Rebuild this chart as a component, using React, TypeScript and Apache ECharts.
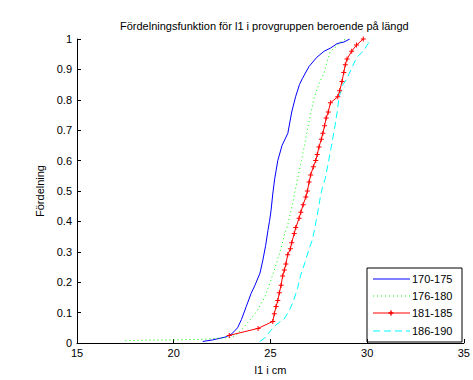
import React, { useEffect, useRef } from "react";
import * as echarts from "echarts";

const titleText = "Fördelningsfunktion för l1 i provgruppen beroende på längd";
const xName = "l1 i cm";
const yName = "Fördelning";
const seriesNames = ["170-175", "176-180", "181-185", "186-190"];
const xTicks = ["15", "20", "25", "30", "35"];
const yTicks = ["0", "0.1", "0.2", "0.3", "0.4", "0.5", "0.6", "0.7", "0.8", "0.9", "1"];

const blue: number[][] = [
  [21.5, 0.005], [22.0, 0.01], [22.7, 0.02], [23.0, 0.03], [23.3, 0.05], [23.5, 0.077],
  [23.75, 0.12], [24.0, 0.163], [24.2, 0.19], [24.46, 0.23], [24.6, 0.27], [24.75, 0.32],
  [24.87, 0.37], [24.95, 0.4], [25.03, 0.435], [25.12, 0.49], [25.22, 0.54], [25.38, 0.6],
  [25.6, 0.65], [25.9, 0.69], [26.1, 0.76], [26.3, 0.81], [26.5, 0.85], [26.65, 0.87],
  [27.0, 0.91], [27.4, 0.94], [27.78, 0.96], [28.1, 0.97], [28.45, 0.985], [28.8, 0.99],
  [29.1, 1.0],
];

const green: number[][] = [
  [17.5, 0.008], [21.5, 0.012], [22.9, 0.018], [23.2, 0.025], [23.6, 0.05], [24.0, 0.08],
  [24.35, 0.11], [24.7, 0.15], [24.96, 0.195], [25.2, 0.24], [25.5, 0.3], [25.7, 0.35],
  [25.9, 0.39], [26.15, 0.46], [26.4, 0.54], [26.6, 0.6], [26.76, 0.65], [27.0, 0.73],
  [27.27, 0.81], [27.5, 0.85], [27.78, 0.89], [27.95, 0.93], [28.1, 0.96], [28.4, 0.975],
  [28.6, 0.99], [28.9, 1.0],
];

const red: number[][] = [
  [22.87, 0.025], [24.36, 0.048], [25.12, 0.071], [25.2, 0.096], [25.29, 0.12],
  [25.38, 0.14], [25.46, 0.165], [25.55, 0.19], [25.63, 0.22], [25.72, 0.24],
  [25.8, 0.26], [25.89, 0.29], [26.03, 0.31], [26.1, 0.33], [26.23, 0.36],
  [26.31, 0.38], [26.48, 0.41], [26.57, 0.43], [26.69, 0.455], [26.83, 0.48],
  [26.91, 0.5], [27.0, 0.53], [27.08, 0.553], [27.22, 0.58], [27.34, 0.6],
  [27.42, 0.62], [27.51, 0.645], [27.63, 0.67], [27.71, 0.69], [27.8, 0.715],
  [27.88, 0.74], [27.99, 0.76], [28.1, 0.79], [28.48, 0.81], [28.58, 0.83],
  [28.7, 0.86], [28.79, 0.89], [28.87, 0.915], [28.96, 0.934], [29.2, 0.96],
  [29.45, 0.98], [29.8, 1.0],
];

const cyan: number[][] = [
  [24.45, 0.005], [24.7, 0.016], [25.0, 0.04], [25.2, 0.055], [25.5, 0.07], [25.7, 0.078],
  [26.0, 0.11], [26.2, 0.14], [26.4, 0.18], [26.55, 0.22], [26.76, 0.26], [27.0, 0.31],
  [27.17, 0.34], [27.3, 0.38], [27.42, 0.42], [27.55, 0.47], [27.68, 0.51], [27.83, 0.54],
  [28.1, 0.63], [28.3, 0.7], [28.45, 0.76], [28.55, 0.81], [28.75, 0.85], [28.96, 0.87],
  [29.2, 0.905], [29.47, 0.94], [29.8, 0.96], [30.1, 0.99], [30.2, 1.0],
];

const FONT = "'Liberation Sans', Arial, sans-serif";
const plusPath = "path://M2,0H3V2H5V3H3V5H2V3H0V2H2Z";

export default function App() {
  const ref = useRef<HTMLDivElement>(null);
  useEffect(() => {
    if (!ref.current) return;
    const chart = echarts.init(ref.current, null, { renderer: "svg" });
    const legendY = [279, 296, 313, 331];
    const legendX0 = 373;
    const legendX1 = 410;
    const legendChildren: any[] = [
      {
        type: "rect",
        shape: { x: 367, y: 268, width: 95, height: 74 },
        style: { fill: "#fff", stroke: "#000", lineWidth: 1 },
      },
      {
        type: "line",
        shape: { x1: legendX0, y1: legendY[0], x2: legendX1, y2: legendY[0] },
        style: { stroke: "#0000ff", lineWidth: 1 },
      },
      {
        type: "line",
        shape: { x1: legendX0, y1: legendY[1], x2: legendX1, y2: legendY[1] },
        style: { stroke: "#00ff00", lineWidth: 1, lineDash: [1, 3] },
      },
      {
        type: "line",
        shape: { x1: legendX0, y1: legendY[2], x2: legendX1, y2: legendY[2] },
        style: { stroke: "#ff0000", lineWidth: 1 },
      },
      {
        type: "rect",
        shape: { x: 388.5, y: legendY[2] - 0.75, width: 5, height: 1.5 },
        style: { fill: "#ff0000" },
      },
      {
        type: "rect",
        shape: { x: 390.25, y: legendY[2] - 2.5, width: 1.5, height: 5 },
        style: { fill: "#ff0000" },
      },
      {
        type: "line",
        shape: { x1: legendX0, y1: legendY[3], x2: legendX1, y2: legendY[3] },
        style: { stroke: "#00ffff", lineWidth: 1, lineDash: [7, 4] },
      },
    ];
    seriesNames.forEach((n, i) => {
      legendChildren.push({
        type: "text",
        x: 412,
        y: legendY[i],
        style: {
          text: n,
          fill: "#000",
          font: `11px ${FONT}`,
          textVerticalAlign: "middle",
          verticalAlign: "middle",
        },
      });
    });

    chart.setOption({
      animation: false,
      backgroundColor: "#fff",
      title: {
        text: titleText,
        left: 120,
        top: 20,
        padding: 0,
        textStyle: { fontFamily: FONT, fontSize: 11, fontWeight: "normal", color: "#000" },
      },
      grid: { left: 77, right: 4, top: 39, bottom: 33, containLabel: false },
      xAxis: {
        type: "value",
        min: 15,
        max: 35,
        interval: 5,
        name: xName,
        nameLocation: "middle",
        nameGap: 21,
        nameTextStyle: { fontFamily: FONT, fontSize: 11, color: "#000" },
        axisLine: { lineStyle: { color: "#000", width: 1 } },
        axisTick: { inside: true, length: 4, lineStyle: { color: "#000" } },
        axisLabel: {
          margin: 4,
          fontFamily: FONT,
          fontSize: 11,
          color: "#000",
          formatter: (v: number) => xTicks[Math.round((v - 15) / 5)] ?? String(v),
        },
        splitLine: { show: false },
      },
      yAxis: {
        type: "value",
        min: 0,
        max: 1,
        interval: 0.1,
        name: yName,
        nameLocation: "middle",
        nameGap: 29,
        nameRotate: 90,
        nameTextStyle: { fontFamily: FONT, fontSize: 11, color: "#000" },
        axisLine: { show: true, lineStyle: { color: "#000", width: 1 } },
        axisTick: { show: true, inside: true, length: 4, lineStyle: { color: "#000" } },
        axisLabel: {
          margin: 5,
          fontFamily: FONT,
          fontSize: 11,
          color: "#000",
          formatter: (v: number) => yTicks[Math.round(v * 10)] ?? String(v),
        },
        splitLine: { show: false },
      },
      series: [
        {
          name: seriesNames[0],
          type: "line",
          data: blue,
          showSymbol: false,
          symbol: "none",
          lineStyle: { color: "#0000ff", width: 1 },
        },
        {
          name: seriesNames[1],
          type: "line",
          data: green,
          showSymbol: false,
          symbol: "none",
          lineStyle: { color: "#00ff00", width: 1, type: [1, 3] },
        },
        {
          name: seriesNames[2],
          type: "line",
          data: red,
          symbol: plusPath,
          symbolSize: 5,
          itemStyle: { color: "#ff0000" },
          lineStyle: { color: "#ff0000", width: 1 },
        },
        {
          name: seriesNames[3],
          type: "line",
          data: cyan,
          showSymbol: false,
          symbol: "none",
          lineStyle: { color: "#00ffff", width: 1, type: [7, 4] },
        },
      ],
      graphic: [{ type: "group", z: 100, children: legendChildren }],
    });
    return () => chart.dispose();
  }, []);
  return (
    <div
      ref={ref}
      style={{ position: "fixed", left: 0, top: 0, width: 473, height: 380 }}
    />
  );
}
